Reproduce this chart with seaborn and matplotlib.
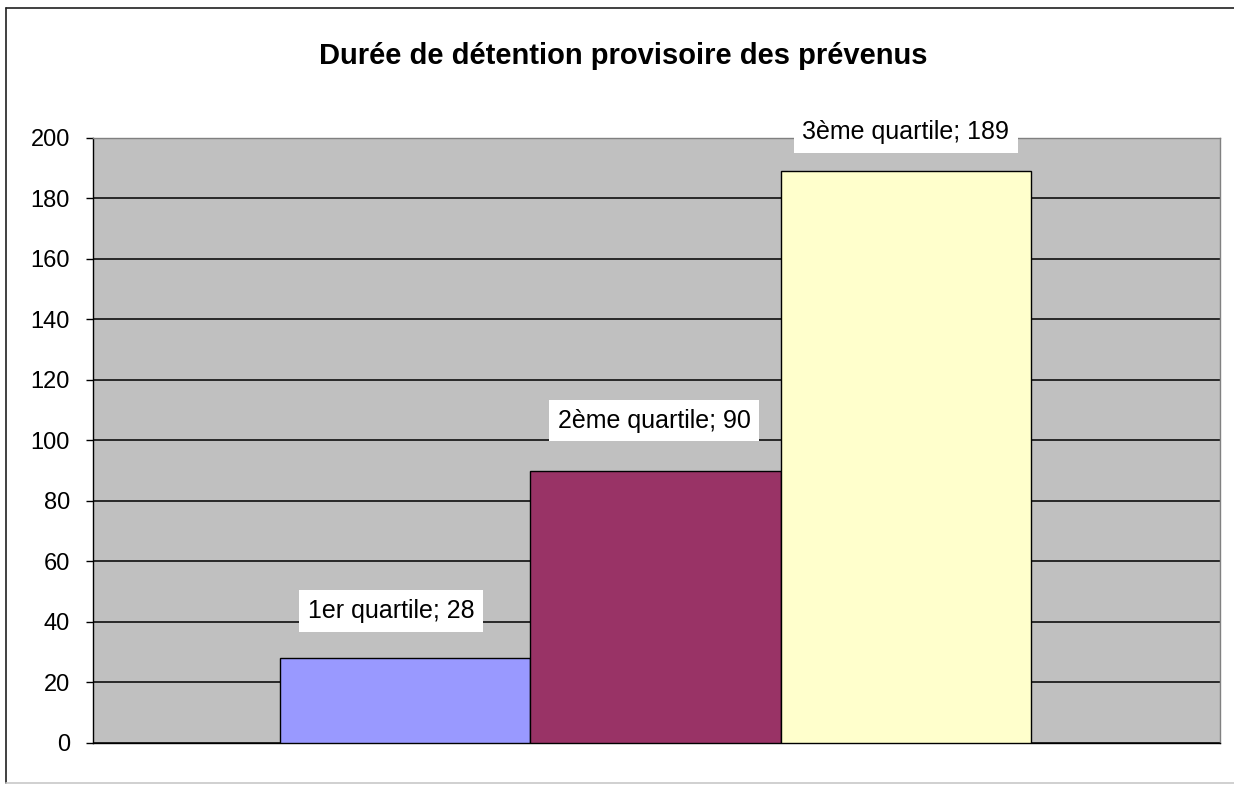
import matplotlib
matplotlib.use("Agg")
import matplotlib.pyplot as plt
import seaborn as sns
import pandas as pd
from matplotlib.lines import Line2D

# Data
categories = ["1er quartile", "2ème quartile", "3ème quartile"]
values = [28, 90, 189]
bar_colors = ["#9999FF", "#993366", "#FFFFCC"]
yticks = [0, 20, 40, 60, 80, 100, 120, 140, 160, 180, 200]
title = "Durée de détention provisoire des prévenus"

df = pd.DataFrame({"cat": categories, "val": values})

sns.set_theme(style="white")
plt.rcParams["font.family"] = ["Liberation Sans", "DejaVu Sans"]

W, H = 1234, 785
fig = plt.figure(figsize=(W / 100, H / 100), dpi=100)
fig.patch.set_facecolor("white")
ax = fig.add_axes([93 / W, 1 - 742.7 / H, (1220 - 93) / W, (742.7 - 138) / H])
ax.set_facecolor("#C0C0C0")

sns.barplot(data=df, x="cat", y="val", hue="cat", palette=bar_colors,
            width=1.0, edgecolor="black", linewidth=1.0, saturation=1,
            legend=False, ax=ax, zorder=3)

ax.set_xlim(-1.248, 3.256)
ax.set_ylim(0, 200)
ax.set_yticks(yticks)
ax.set_xticks([])
ax.set_xlabel("")
ax.set_ylabel("")
ax.yaxis.grid(True, color="black", linewidth=1.1, zorder=1)
ax.set_axisbelow(True)
ax.tick_params(axis="y", left=True, length=5, width=1, color="black",
               pad=11.5, labelsize=17, labelcolor="black")
for side in ["left", "bottom"]:
    ax.spines[side].set_color("black")
    ax.spines[side].set_linewidth(1.0)
for side in ["top", "right"]:
    ax.spines[side].set_color("#808080")
    ax.spines[side].set_linewidth(1.0)

# Data labels in white boxes above each bar
label_offsets = [(-10, 34), (-1, 36), (0, 28)]
for i, (c, v) in enumerate(zip(categories, values)):
    ax.annotate(f"{c}; {v}", xy=(i, v), xytext=label_offsets[i],
                textcoords="offset points", ha="center", va="center",
                fontsize=18, color="black", zorder=5, annotation_clip=False,
                bbox=dict(boxstyle="square,pad=0.35", facecolor="white",
                          edgecolor="none"))

fig.text(623 / W, 1 - 63.5 / H, title, ha="center", va="baseline",
         fontsize=21, fontweight="bold", color="black")

# Chart frame
fig.add_artist(Line2D([6 / W, 6 / W], [1 - 8 / H, 1 - 783 / H],
                      transform=fig.transFigure, color="#202020", linewidth=1.2))
fig.add_artist(Line2D([6 / W, 1], [1 - 8 / H, 1 - 8 / H],
                      transform=fig.transFigure, color="#202020", linewidth=1.2))
fig.add_artist(Line2D([6 / W, 1], [1 - 783 / H, 1 - 783 / H],
                      transform=fig.transFigure, color="#C8C8C8", linewidth=1.2))

fig.savefig("out.png", dpi=100, facecolor="white")
